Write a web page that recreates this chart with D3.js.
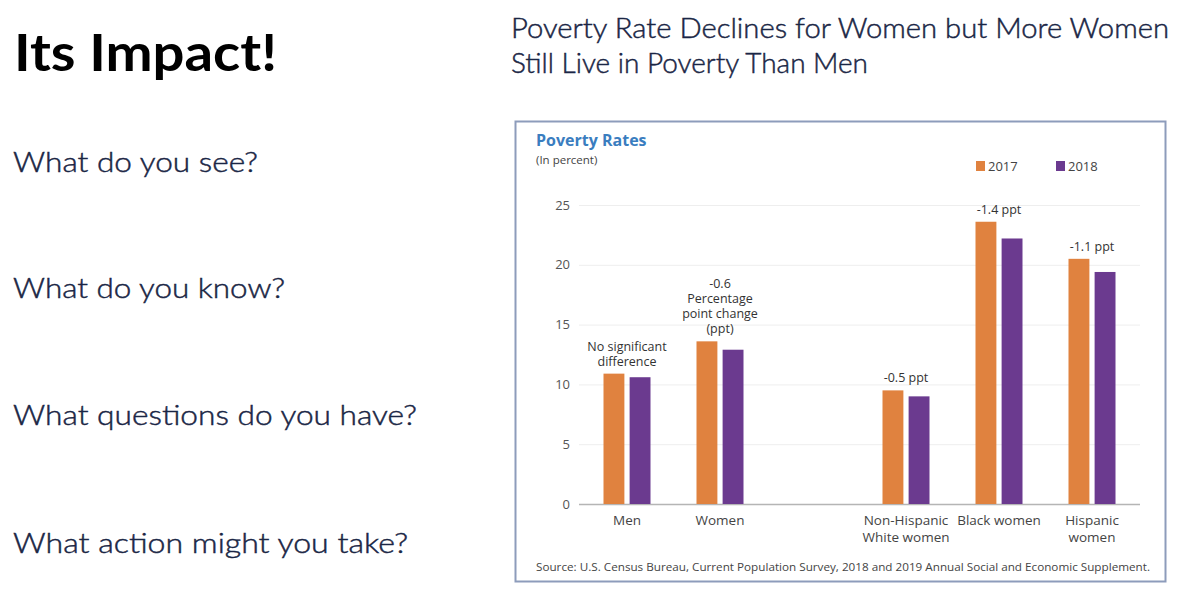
<!DOCTYPE html>
<html>
<head>
<meta charset="utf-8">
<script src="https://cdn.jsdelivr.net/npm/d3@7"></script>
<style>
  body { margin: 0; background: #fff; }
  svg { display: block; }
</style>
</head>
<body>
<script>
// chart data
var categories = ["Men", "Women", "Non-Hispanic White women", "Black women", "Hispanic women"];
var categoryLines = [["Men"], ["Women"], ["Non-Hispanic", "White women"], ["Black women"], ["Hispanic", "women"]];
var years = ["2017", "2018"];
var values2017 = [10.9, 13.6, 9.5, 23.6, 20.5];
var values2018 = [10.6, 12.9, 9.0, 22.2, 19.4];
var notes = [["No significant", "difference"], ["-0.6", "Percentage", "point change", "(ppt)"], ["-0.5 ppt"], ["-1.4 ppt"], ["-1.1 ppt"]];
var yTicks = [0, 5, 10, 15, 20, 25];
var questions = ["What do you see?", "What do you know?", "What questions do you have?", "What action might you take?"];

var width = 1200, height = 604;
var orange = "#e0823f", purple = "#6b3a8f";
var navy = "#1a2645";

var svg = d3.select("body").append("svg")
    .attr("width", width)
    .attr("height", height);

// left side text
svg.append("text")
    .attr("x", 14).attr("y", 71)
    .attr("font-family", "Lato, 'Open Sans', sans-serif")
    .attr("font-weight", "bold")
    .attr("font-size", 52)
    .attr("textLength", 263)
    .attr("lengthAdjust", "spacingAndGlyphs")
    .attr("fill", "#000")
    .text("Its Impact!");

var qY = [172, 298, 425, 553];
var qW = [245, 272, 404, 395];
svg.selectAll("text.q")
    .data(questions)
    .join("text")
    .attr("class", "q")
    .attr("x", 13)
    .attr("y", (d, i) => qY[i])
    .attr("font-family", "Lato, sans-serif")
    .attr("font-weight", 300)
    .attr("font-size", 27)
    .attr("textLength", (d, i) => qW[i])
    .attr("lengthAdjust", "spacingAndGlyphs")
    .attr("fill", navy)
    .attr("stroke", navy)
    .attr("stroke-width", 0.45)
    .text(d => d);

// headline
var head = ["Poverty Rate Declines for Women but More Women", "Still Live in Poverty Than Men"];
var headW = [658, 357];
svg.selectAll("text.head")
    .data(head)
    .join("text")
    .attr("class", "head")
    .attr("x", 511)
    .attr("y", (d, i) => 38 + i * 35)
    .attr("font-family", "Lato, sans-serif")
    .attr("font-weight", 300)
    .attr("font-size", 27)
    .attr("textLength", (d, i) => headW[i])
    .attr("lengthAdjust", "spacingAndGlyphs")
    .attr("fill", navy)
    .attr("stroke", navy)
    .attr("stroke-width", 0.45)
    .text(d => d);

// chart frame
svg.append("rect")
    .attr("x", 515.5).attr("y", 121.5)
    .attr("width", 650).attr("height", 460)
    .attr("fill", "#fff")
    .attr("stroke", "#8d9cbb")
    .attr("stroke-width", 2);

var chartFont = "'Open Sans', sans-serif";

svg.append("text")
    .attr("x", 536).attr("y", 146)
    .attr("font-family", chartFont)
    .attr("font-weight", "bold")
    .attr("font-size", 16)
    .attr("fill", "#3a7dbf")
    .text("Poverty Rates");

svg.append("text")
    .attr("x", 536).attr("y", 164)
    .attr("font-family", chartFont)
    .attr("font-size", 11.5)
    .attr("fill", "#444")
    .text("(In percent)");

// scales
var slots = ["Men", "Women", "_gap", "Non-Hispanic White women", "Black women", "Hispanic women"];
var x = d3.scaleBand()
    .domain(slots)
    .range([580.5, 1138.5])
    .paddingInner(0)
    .paddingOuter(0);

var y = d3.scaleLinear()
    .domain([0, 25])
    .range([504, 205]);

var xYear = d3.scaleBand()
    .domain(years)
    .range([-23.5, 23.5])
    .paddingInner(0.2);

var colour = d3.scaleOrdinal().domain(years).range([orange, purple]);

// y axis with gridlines
var yAxis = d3.axisLeft(y)
    .tickValues(yTicks)
    .tickSize(-(1140 - 579))
    .tickPadding(9);

var gy = svg.append("g")
    .attr("transform", "translate(579,0)")
    .call(yAxis);
gy.select(".domain").remove();
gy.selectAll(".tick line")
    .attr("stroke", d => d === 0 ? "#b5b5b5" : "#eeeeee")
    .attr("stroke-width", d => d === 0 ? 1.5 : 1);
gy.selectAll(".tick text")
    .attr("font-family", chartFont)
    .attr("font-size", 13)
    .attr("fill", "#555");

// bars
var rows = categories.map((c, i) => ({ cat: c, v: { "2017": values2017[i], "2018": values2018[i] } }));

var groups = svg.append("g").selectAll("g")
    .data(rows)
    .join("g")
    .attr("transform", d => "translate(" + (x(d.cat) + x.bandwidth() / 2) + ",0)");

groups.selectAll("rect")
    .data(d => years.map(yr => ({ yr: yr, value: d.v[yr] })))
    .join("rect")
    .attr("x", d => xYear(d.yr))
    .attr("width", xYear.bandwidth())
    .attr("y", d => y(d.value))
    .attr("height", d => y(0) - y(d.value))
    .attr("fill", d => colour(d.yr));

// notes above each pair
groups.each(function (d, i) {
    var lines = notes[i];
    var base = y(d.v["2017"]) - 8;
    d3.select(this).selectAll("text.note")
        .data(lines)
        .join("text")
        .attr("class", "note")
        .attr("x", 0)
        .attr("y", (t, j) => base - (lines.length - 1 - j) * 15)
        .attr("text-anchor", "middle")
        .attr("font-family", chartFont)
        .attr("font-size", 12.5)
        .attr("fill", "#333")
        .text(t => t);
});

// x axis labels
var xAxis = d3.axisBottom(x)
    .tickValues(categories)
    .tickSize(0)
    .tickPadding(0);

var gx = svg.append("g")
    .attr("transform", "translate(0,504)")
    .call(xAxis);
gx.select(".domain").remove();
gx.selectAll(".tick text")
    .attr("font-family", chartFont)
    .attr("font-size", 13.5)
    .attr("fill", "#444")
    .attr("y", 0)
    .attr("dy", null)
    .text(null)
    .each(function (d) {
        var lines = categoryLines[categories.indexOf(d)];
        d3.select(this).selectAll("tspan")
            .data(lines)
            .join("tspan")
            .attr("x", 0)
            .attr("y", (t, j) => 21 + j * 17)
            .text(t => t);
    });

// legend
var legend = svg.append("g").selectAll("g")
    .data(years)
    .join("g")
    .attr("transform", (d, i) => "translate(" + (976 + i * 80) + ",161)");
legend.append("rect")
    .attr("width", 9).attr("height", 10)
    .attr("fill", d => colour(d));
legend.append("text")
    .attr("x", 12).attr("y", 9.5)
    .attr("font-family", chartFont)
    .attr("font-size", 13)
    .attr("fill", "#444")
    .text(d => d);

// source
svg.append("text")
    .attr("x", 536).attr("y", 571)
    .attr("font-family", chartFont)
    .attr("font-size", 10.5)
    .attr("textLength", 614)
    .attr("lengthAdjust", "spacingAndGlyphs")
    .attr("fill", "#444")
    .text("Source: U.S. Census Bureau, Current Population Survey, 2018 and 2019 Annual Social and Economic Supplement.");
</script>
</body>
</html>
